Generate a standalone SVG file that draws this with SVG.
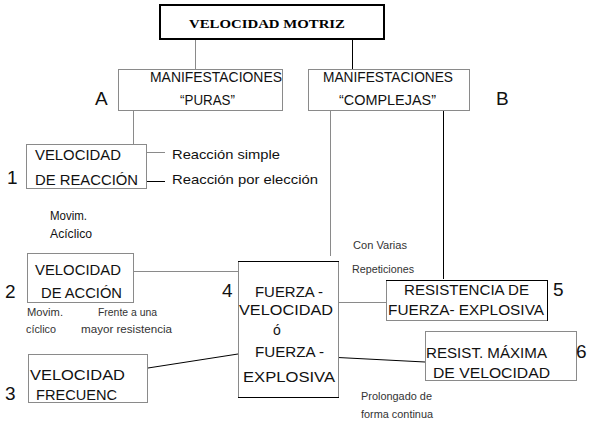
<svg xmlns="http://www.w3.org/2000/svg" width="592" height="426" viewBox="0 0 592 426">
<style>
.bg{fill:#fff}
.box{fill:#fff;stroke:#8a8a8a;stroke-width:1}
.bk{stroke:#000;stroke-width:1;fill:none}
.gr{stroke:#8a8a8a;stroke-width:1;fill:none}
.t{font-family:"Liberation Sans",Arial,sans-serif;fill:#111}
.m{font-size:14px}
.s{font-size:10px;fill:#333}
.n{font-size:19px}
.title{font-family:"Liberation Serif","Times New Roman",serif;font-weight:bold;font-size:13px;fill:#000}
</style>
<rect class="bg" x="0" y="0" width="592" height="426"/>
<g id="connectors">
<line class="gr" x1="195.5" y1="39" x2="195.5" y2="69"/>
<line class="bk" x1="352.5" y1="39" x2="352.5" y2="69"/>
<line class="gr" x1="133.5" y1="111" x2="133.5" y2="144"/>
<line class="gr" x1="330.5" y1="111" x2="330.5" y2="256"/>
<line class="bk" x1="443.5" y1="111" x2="443.5" y2="279"/>
<line class="gr" x1="147" y1="152.5" x2="165" y2="152.5"/>
<line class="bk" x1="147" y1="181.5" x2="165" y2="181.5"/>
<line class="gr" x1="134" y1="271.5" x2="238" y2="271.5"/>
<line class="bk" x1="148" y1="368" x2="238" y2="354"/>
<line class="gr" x1="338" y1="302.5" x2="386" y2="302.5"/>
<line class="bk" x1="338" y1="357.5" x2="425" y2="362"/>
</g>
<g id="n-motriz">
<rect x="160" y="5" width="224" height="34" fill="#fff" stroke="#000" stroke-width="2"/>
<text class="title" x="189" y="28" textLength="156" lengthAdjust="spacingAndGlyphs">VELOCIDAD MOTRIZ</text>
</g>
<g id="n-puras">
<rect class="box" x="118.5" y="69.5" width="164" height="41"/>
<text class="t m" x="150" y="82" textLength="132" lengthAdjust="spacingAndGlyphs">MANIFESTACIONES</text>
<text class="t m" x="180" y="105" textLength="55" lengthAdjust="spacingAndGlyphs">“PURAS”</text>
<text class="t n" x="95" y="105">A</text>
</g>
<g id="n-complejas">
<rect class="box" x="308.5" y="69.5" width="161" height="41"/>
<text class="t m" x="323" y="82" textLength="130" lengthAdjust="spacingAndGlyphs">MANIFESTACIONES</text>
<text class="t m" x="339" y="105" textLength="97" lengthAdjust="spacingAndGlyphs">“COMPLEJAS”</text>
<text class="t n" x="496" y="105">B</text>
</g>
<g id="n-reaccion">
<rect class="box" x="26.5" y="144.5" width="120" height="44"/>
<text class="t m" x="35" y="160" textLength="86" lengthAdjust="spacingAndGlyphs">VELOCIDAD</text>
<text class="t m" x="35" y="185" textLength="103" lengthAdjust="spacingAndGlyphs">DE REACCIÓN</text>
<text class="t n" x="7" y="184">1</text>
<text class="t" font-size="13.5" x="172" y="159" textLength="108" lengthAdjust="spacingAndGlyphs">Reacción simple</text>
<text class="t" font-size="13.5" x="172" y="184" textLength="146" lengthAdjust="spacingAndGlyphs">Reacción por elección</text>
<text class="t" font-size="12" fill="#222" x="50" y="220" textLength="37" lengthAdjust="spacingAndGlyphs">Movim.</text>
<text class="t" font-size="12" fill="#222" x="50" y="238" textLength="42" lengthAdjust="spacingAndGlyphs">Acíclico</text>
</g>
<g id="n-accion">
<rect class="box" x="27.5" y="253.5" width="106" height="49"/>
<text class="t m" x="35" y="275" textLength="86" lengthAdjust="spacingAndGlyphs">VELOCIDAD</text>
<text class="t m" x="41" y="298" textLength="81" lengthAdjust="spacingAndGlyphs">DE ACCIÓN</text>
<text class="t n" x="5" y="298">2</text>
<text class="t s" x="27" y="316" textLength="36" lengthAdjust="spacingAndGlyphs">Movim.</text>
<text class="t s" x="26" y="333" textLength="30" lengthAdjust="spacingAndGlyphs">cíclico</text>
<text class="t s" x="98" y="316" textLength="59" lengthAdjust="spacingAndGlyphs">Frente a una</text>
<text class="t s" x="81" y="333" textLength="91" lengthAdjust="spacingAndGlyphs">mayor resistencia</text>
</g>
<g id="n-frecuenc">
<rect class="box" x="28.5" y="354.5" width="119" height="48"/>
<text class="t m" x="30" y="380" textLength="95" lengthAdjust="spacingAndGlyphs">VELOCIDAD</text>
<text class="t m" x="36" y="400" textLength="81" lengthAdjust="spacingAndGlyphs">FRECUENC</text>
<text class="t n" x="5" y="400">3</text>
</g>
<g id="n-fuerza">
<rect class="box" x="238.5" y="261.5" width="100" height="136"/>
<line class="bk" x1="238" y1="261.5" x2="339" y2="261.5"/>
<line class="bk" x1="238" y1="397.5" x2="339" y2="397.5"/>
<text class="t m" x="255" y="297" textLength="68" lengthAdjust="spacingAndGlyphs">FUERZA -</text>
<text class="t m" x="239" y="315" textLength="94" lengthAdjust="spacingAndGlyphs">VELOCIDAD</text>
<text class="t m" x="273" y="335">ó</text>
<text class="t m" x="255" y="357" textLength="69" lengthAdjust="spacingAndGlyphs">FUERZA -</text>
<text class="t m" x="243" y="382" textLength="92" lengthAdjust="spacingAndGlyphs">EXPLOSIVA</text>
<text class="t n" x="222" y="297">4</text>
<text class="t s" x="353" y="249" textLength="54" lengthAdjust="spacingAndGlyphs">Con Varias</text>
<text class="t s" x="352" y="273" textLength="62" lengthAdjust="spacingAndGlyphs">Repeticiones</text>
<text class="t s" x="361" y="400" textLength="71" lengthAdjust="spacingAndGlyphs">Prolongado de</text>
<text class="t s" x="361" y="418" textLength="72" lengthAdjust="spacingAndGlyphs">forma continua</text>
</g>
<g id="n-resistencia">
<rect class="box" x="386.5" y="280.5" width="161" height="40"/>
<line class="bk" x1="386" y1="280.5" x2="548" y2="280.5"/>
<line class="bk" x1="547.5" y1="280" x2="547.5" y2="321"/>
<text class="t m" x="404" y="295" textLength="125" lengthAdjust="spacingAndGlyphs">RESISTENCIA DE</text>
<text class="t m" x="388" y="315" textLength="156" lengthAdjust="spacingAndGlyphs">FUERZA- EXPLOSIVA</text>
<text class="t n" x="553" y="296">5</text>
</g>
<g id="n-resist">
<rect class="box" x="425.5" y="331.5" width="151" height="49"/>
<text class="t m" x="426" y="358" textLength="121" lengthAdjust="spacingAndGlyphs">RESIST. MÁXIMA</text>
<text class="t m" x="433" y="378" textLength="117" lengthAdjust="spacingAndGlyphs">DE VELOCIDAD</text>
<text class="t n" x="576" y="358">6</text>
</g>
</svg>
